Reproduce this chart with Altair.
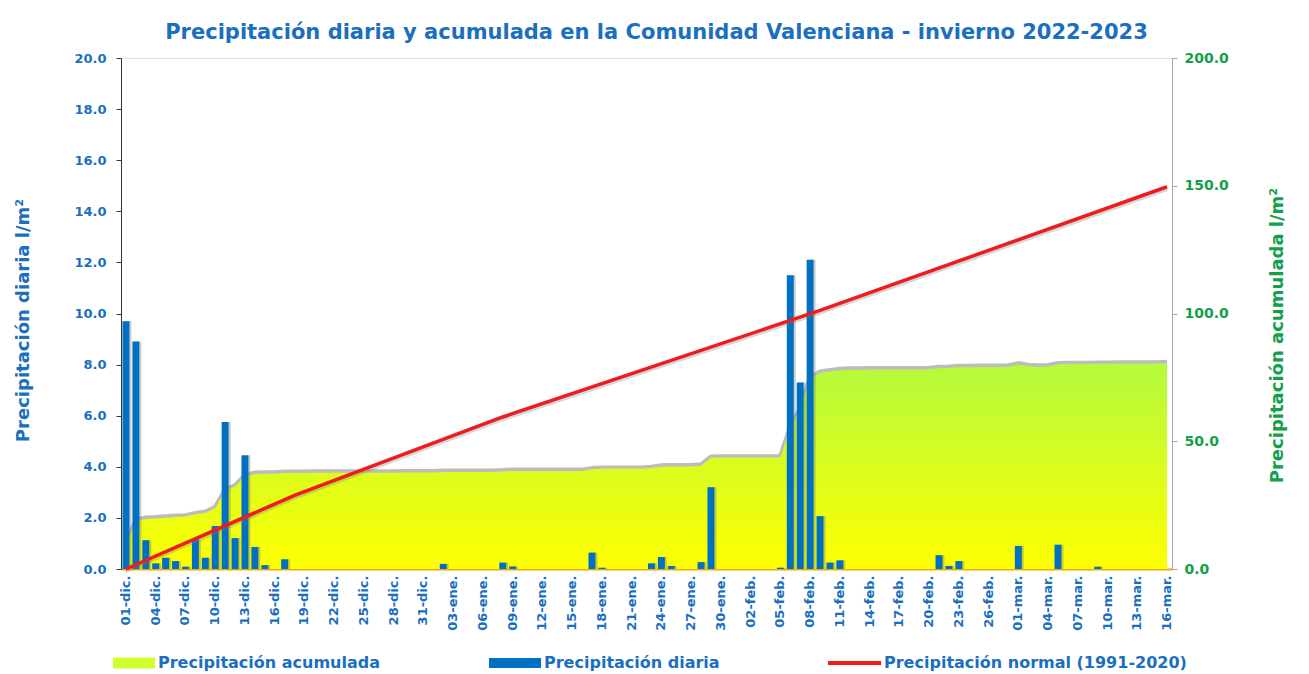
import altair as alt
import pandas as pd

# ---------------- data ----------------
months = [("dic.", 31), ("ene.", 31), ("feb.", 28), ("mar.", 16)]
dates = [f"{d:02d}-{m}" for m, n in months for d in range(1, n + 1)]

diaria_dic = [9.7, 8.9, 1.13, 0.22, 0.44, 0.31, 0.09, 1.16, 0.44, 1.68, 5.75, 1.21, 4.45, 0.86, 0.15, 0.0,
              0.38, 0, 0, 0, 0, 0, 0, 0, 0, 0, 0, 0, 0, 0, 0]
diaria_ene = [0, 0.2, 0, 0, 0, 0, 0, 0.25, 0.1, 0, 0, 0, 0, 0, 0, 0, 0.64, 0.05, 0, 0, 0, 0,
              0.22, 0.47, 0.12, 0, 0, 0.27, 3.2, 0, 0]
diaria_feb = [0, 0, 0, 0, 0.05, 11.5, 7.3, 12.1, 2.07, 0.25, 0.34, 0, 0, 0, 0, 0, 0, 0, 0, 0,
              0.54, 0.12, 0.31, 0, 0, 0, 0, 0]
diaria_mar = [0.9, 0, 0, 0, 0.95, 0, 0, 0, 0.09, 0, 0, 0, 0, 0, 0, 0]

acum_dic = [9.7, 18.8, 19.6, 19.8, 20.1, 20.4, 20.5, 21.4, 21.9, 23.8, 30.5, 32.3, 36.2, 37.2, 37.3, 37.3,
            37.6, 37.6, 37.6, 37.7, 37.7, 37.7, 37.7, 37.7, 37.7, 37.7, 37.7, 37.7, 37.8, 37.8, 37.8]
acum_ene = [37.8, 38.0, 38.0, 38.0, 38.0, 38.0, 38.0, 38.2, 38.4, 38.4, 38.4, 38.4, 38.4, 38.4, 38.4, 38.4,
            39.0, 39.2, 39.2, 39.2, 39.2, 39.2, 39.5, 40.0, 40.1, 40.1, 40.1, 40.4, 43.5, 43.6, 43.6]
acum_feb = [43.6, 43.6, 43.6, 43.6, 43.7, 55.2, 62.5, 74.6, 76.8, 77.3, 77.8, 78.0, 78.0, 78.1, 78.1, 78.1,
            78.1, 78.1, 78.1, 78.2, 78.6, 78.7, 79.0, 79.0, 79.1, 79.1, 79.1, 79.2]
acum_mar = [80.0, 79.4, 79.2, 79.3, 80.1, 80.2, 80.2, 80.2, 80.3, 80.3, 80.4, 80.4, 80.4, 80.4, 80.4, 80.5]

normal_dates = ["01-dic.", "18-dic.", "08-ene.", "09-feb.", "16-mar."]
normal_vals = [0.0, 28.8, 59.5, 101.2, 149.6]

series = ["Precipitación acumulada", "Precipitación diaria", "Precipitación normal (1991-2020)"]
series_colors = ["#D2FF2E", "#0070C0", "#EE1C1C"]
series_shapes = ["M-0.27,-0.5H3.55V0.5H-0.27Z", "M-1.18,-0.45H3.55V0.45H-1.18Z", "M-1.27,-0.18H3.55V0.18H-1.27Z"]

diaria = diaria_dic + diaria_ene + diaria_feb + diaria_mar
acumulada = acum_dic + acum_ene + acum_feb + acum_mar

df = pd.DataFrame({"fecha": dates, "diaria": diaria, "acumulada": acumulada})
df_normal = pd.DataFrame({"fecha": normal_dates, "normal": normal_vals})
df_leg = pd.DataFrame({"fecha": [dates[0]] * 3, "diaria": [0.0] * 3, "serie": series})

# ---------------- style ----------------
FONT = "DejaVu Sans"
BLUE = "#1A6FBF"
GREEN = "#12A04A"

X = alt.X(
    "fecha:O",
    scale=alt.Scale(type="band", domain=dates, paddingInner=0.3, paddingOuter=0.15),
    axis=alt.Axis(
        values=dates[::3], labelAngle=270, labelFont=FONT, labelFontSize=13, labelFontWeight="bold",
        labelColor=BLUE, ticks=False, domainColor="#F2A900", domainWidth=2, labelPadding=6,
        title=None, labelAlign="right", labelBaseline="middle", grid=False,
    ),
    title=None,
)

Y_dia = alt.Y(
    "diaria:Q",
    scale=alt.Scale(domain=[0, 20], nice=False),
    axis=alt.Axis(
        orient="left", values=list(range(0, 21, 2)), format=".1f", grid=False,
        labelFont=FONT, labelFontSize=13, labelFontWeight="bold", labelColor=BLUE,
        domainColor="#333333", tickColor="#333333", tickSize=5, labelPadding=10,
        title="Precipitación diaria l/m²", titleFont=FONT, titleFontSize=18, titleFontWeight="bold",
        titleColor=BLUE, titleAngle=270, titleX=-98, titleY=262, titleAlign="center", titleBaseline="middle",
    ),
)

Y_acu = alt.Y(
    "acumulada:Q",
    scale=alt.Scale(domain=[0, 200], nice=False),
    axis=alt.Axis(
        orient="right", values=[0, 50, 100, 150, 200], format=".1f", grid=False,
        labelFont=FONT, labelFontSize=14, labelFontWeight="bold", labelColor=GREEN,
        domainColor="#A6A6A6", tickColor="#A6A6A6", tickSize=5, labelPadding=7,
        title="Precipitación acumulada l/m²", titleFont=FONT, titleFontSize=18, titleFontWeight="bold",
        titleColor=GREEN, titleAngle=270, titleX=105, titleY=277, titleAlign="center", titleBaseline="middle",
    ),
)

Y_norm = alt.Y("normal:Q", scale=alt.Scale(domain=[0, 200], nice=False), axis=None)

gradient = alt.Gradient(
    gradient="linear",
    stops=[alt.GradientStop(color="#FFFF00", offset=0), alt.GradientStop(color="#B4FA3E", offset=1)],
    x1=1, x2=1, y1=1, y2=0,
)

base = alt.Chart(df)

area_shadow = base.mark_line(color="#8F8F8F", strokeWidth=4.5, opacity=0.6, yOffset=-1.2).encode(x=X, y=Y_acu)
area = base.mark_area(color=gradient).encode(x=X, y=Y_acu)
area_group = alt.layer(area_shadow, area)

legend = alt.Legend(
    title=None, orient="none", legendX=-16, legendY=594, direction="horizontal", columns=3,
    columnPadding=108, symbolSize=484, symbolOpacity=1, symbolStrokeWidth=0,
    labelFont=FONT, labelFontSize=16, labelFontWeight="bold", labelColor=BLUE,
    labelOffset=31, labelLimit=500, padding=0,
)

bar_shadow = base.mark_bar(color="#6D6D6D", opacity=0.35, xOffset=2).encode(x=X, y=Y_dia)
bars = base.mark_bar(color="#0070C0").encode(x=X, y=Y_dia)
leg_pts = alt.Chart(df_leg).mark_point(filled=True, opacity=0).encode(
    x=X, y=Y_dia,
    color=alt.Color("serie:N", scale=alt.Scale(domain=series, range=series_colors), legend=legend),
    shape=alt.Shape("serie:N", scale=alt.Scale(domain=series, range=series_shapes), legend=legend),
)
bar_group = alt.layer(bar_shadow, bars, leg_pts)

norm_base = alt.Chart(df_normal)
norm_shadow = norm_base.mark_line(color="#777777", strokeWidth=3.5, opacity=0.3, yOffset=2.5).encode(x=X, y=Y_norm)
norm_line = norm_base.mark_line(color="#EE1C1C", strokeWidth=3.5).encode(x=X, y=Y_norm)
norm_group = alt.layer(norm_shadow, norm_line)

chart = (
    alt.layer(area_group, bar_group, norm_group)
    .resolve_scale(y="independent")
    .properties(
        width=1051,
        height=511,
        title=alt.Title(
            "Precipitación diaria y acumulada en la Comunidad Valenciana - invierno 2022-2023",
            font=FONT, fontSize=21, fontWeight="bold", color=BLUE, anchor="middle", offset=8, dx=10,
        ),
        autosize=alt.AutoSizeParams(type="none"),
        padding={"left": 113, "top": 50, "right": 129, "bottom": 105},
    )
    .configure_view(stroke="#A6A6A6", strokeWidth=1)
    .configure(font=FONT, background="white")
)

chart.save("out.html", embed_options={"renderer": "svg", "actions": False})
